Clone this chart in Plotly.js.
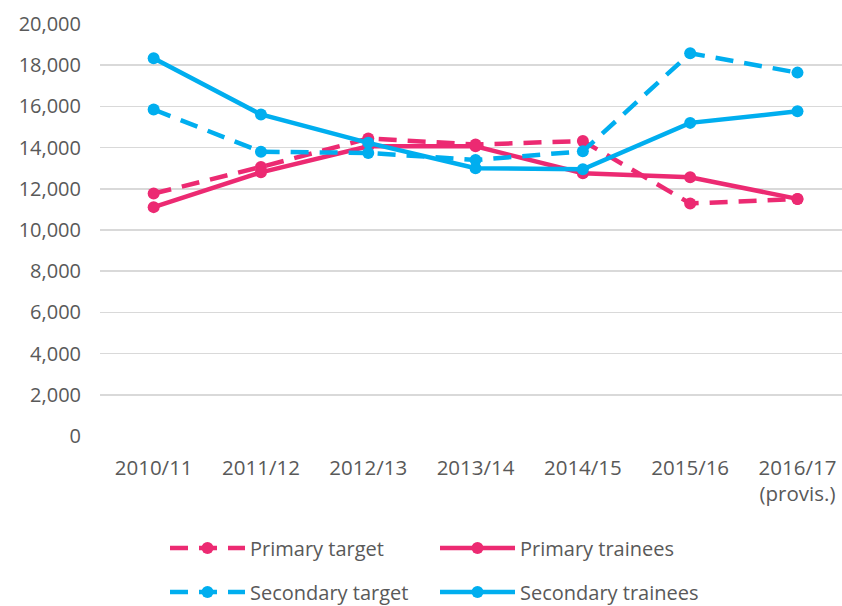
<!DOCTYPE html>
<html>
<head>
<meta charset="utf-8">
<script src="https://cdn.plot.ly/plotly-3.0.1.min.js"></script>
<style>html,body{margin:0;padding:0;background:#fff;}#chart{width:842px;height:606px;}</style>
</head>
<body>
<div id="chart"></div>
<script>
const years = ["2010/11", "2011/12", "2012/13", "2013/14", "2014/15", "2015/16", "2016/17<br>(provis.)"];
const primaryTarget = [11770, 13060, 14440, 14150, 14320, 11290, 11500];
const primaryTrainees = [11110, 12800, 14060, 14060, 12760, 12560, 11510];
const secondaryTarget = [15850, 13800, 13740, 13400, 13820, 18580, 17640];
const secondaryTrainees = [18340, 15610, 14230, 13000, 12950, 15200, 15760];
const yTicks = [0, 2000, 4000, 6000, 8000, 10000, 12000, 14000, 16000, 18000, 20000];

const pink = "#ec2a72";
const blue = "#00aeef";
const font = "Open Sans, sans-serif";

function tr(name, y, color, dash, legend) {
  return {
    type: "scatter", mode: "lines+markers", name: name, x: years, y: y,
    line: {color: color, width: 4.5, dash: dash},
    marker: {color: color, size: 12},
    legend: legend
  };
}

const data = [
  tr("Primary target", primaryTarget, pink, "18px,11px", "legend"),
  tr("Primary trainees", primaryTrainees, pink, "solid", "legend"),
  tr("Secondary target", secondaryTarget, blue, "18px,11px", "legend2"),
  tr("Secondary trainees", secondaryTrainees, blue, "solid", "legend2")
];

const legendBase = {
  orientation: "h", xref: "container", yref: "container",
  x: 165 / 842, xanchor: "left", yanchor: "middle",
  font: {family: font, size: 20, color: "#595959"},
  itemwidth: 75, entrywidth: 180, entrywidthmode: "pixels",
  bgcolor: "rgba(0,0,0,0)", traceorder: "normal"
};

const layout = {
  width: 842, height: 606,
  margin: {l: 100, r: 0, t: 24, b: 170},
  paper_bgcolor: "#fff", plot_bgcolor: "#fff",
  font: {family: font, size: 20, color: "#595959"},
  xaxis: {
    type: "category", range: [-0.5, 6.415],
    showgrid: false, zeroline: false, showline: false, ticks: "",
    ticklabelstandoff: 17,
    tickfont: {family: font, size: 20.5, color: "#595959"}
  },
  yaxis: {
    range: [0, 20000], tickvals: yTicks, tickformat: ",d",
    showgrid: true, gridcolor: "#d9d9d9", gridwidth: 1.5,
    zeroline: false, showline: false, ticks: "",
    ticklabelstandoff: 18,
    tickfont: {family: font, size: 20, color: "#595959"}
  },
  showlegend: true,
  legend: Object.assign({}, legendBase, {y: 58 / 606}),
  legend2: Object.assign({}, legendBase, {y: 14 / 606})
};

Plotly.newPlot("chart", data, layout, {displayModeBar: false, staticPlot: true});
</script>
</body>
</html>
